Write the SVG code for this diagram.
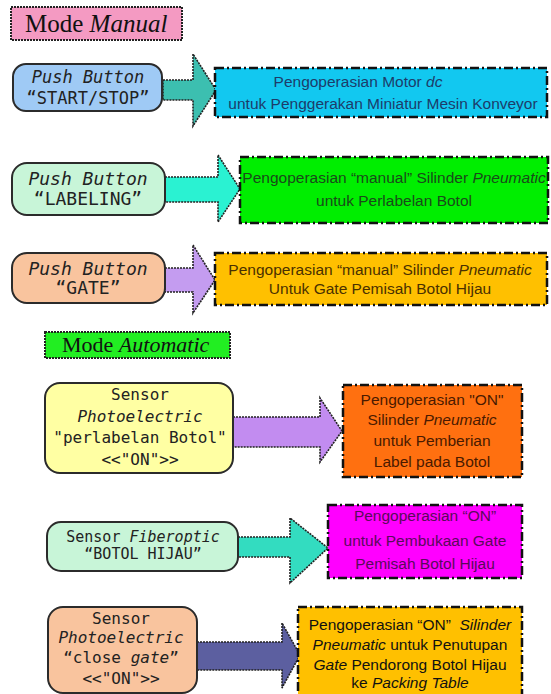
<svg xmlns="http://www.w3.org/2000/svg" width="551" height="694" viewBox="0 0 551 694">
<style>
.node{stroke:#2b2b2b;stroke-width:2}
.mono{font-family:"DejaVu Sans Mono",monospace;text-anchor:middle;fill:#222}
.out{stroke:#111;stroke-width:2.5;stroke-dasharray:9 3 2 3}
.sans{font-family:"Liberation Sans",Arial,sans-serif;text-anchor:middle;font-size:15.5px}
.arr{stroke:#222;stroke-width:1.6;stroke-dasharray:2 1}
.mode{stroke:#222;stroke-width:2;stroke-dasharray:2 1}
.serif{font-family:"Liberation Serif","Times New Roman",serif;fill:#111}
</style>
<rect width="551" height="694" fill="#fff"/>
<g id="mode-manual">
<rect class="mode" x="11" y="7" width="171" height="33" fill="#f49ac2"/>
<text class="serif" x="25" y="32" font-size="25">Mode <tspan font-style="italic">Manual</tspan></text>
</g>
<g id="mode-automatic">
<rect class="mode" x="45" y="332" width="185" height="26" fill="#22ee22"/>
<text class="serif" x="62" y="352" font-size="22">Mode <tspan font-style="italic">Automatic</tspan></text>
</g>
<g id="connectors">
<polygon class="arr" fill="#3cbfb0" points="163,80 193,80 193,54 216,90 193,126 193,100 163,100"/>
<polygon class="arr" fill="#2af2d2" points="165,177 218,177 218,155 240,189 218,222 218,202 165,202"/>
<polygon class="arr" fill="#c49cf0" points="165,268 193,268 193,245 215,280 193,313 193,292 165,292"/>
<polygon class="arr" fill="#c28cf0" points="233,417 320,417 320,398 342,431 320,462 320,447 233,447"/>
<polygon class="arr" fill="#33dcc0" points="238,537 290,537 290,518 328,548 290,583 290,557 238,557"/>
<polygon class="arr" fill="#5c5fa0" points="197,642 282,642 282,623 300,655 282,688 282,670 197,670"/>
</g>
<g id="pb-startstop">
<rect class="node" x="13" y="64" width="149" height="47" rx="13" fill="#9fcaf5"/>
<text class="mono" x="88" y="83" font-size="17" font-style="italic">Push Button</text>
<text class="mono" x="88" y="104" font-size="17">“START/STOP”</text>
</g>
<g id="out-motor">
<rect class="out" x="215" y="68" width="332" height="49" fill="#12c8f0"/>
<text class="sans" x="358" y="87" fill="#1d3c6a">Pengoperasian Motor <tspan font-style="italic">dc</tspan></text>
<text class="sans" x="383" y="109" fill="#1d3c6a">untuk Penggerakan Miniatur Mesin Konveyor</text>
</g>
<g id="pb-labeling">
<rect class="node" x="12" y="163" width="153" height="52" rx="15" fill="#c8f5d8"/>
<text class="mono" x="88" y="185" font-size="18" font-style="italic">Push Button</text>
<text class="mono" x="88" y="205" font-size="18">“LABELING”</text>
</g>
<g id="out-labeling">
<rect class="out" x="240" y="157" width="308" height="66" fill="#00ee00"/>
<text class="sans" x="394" y="183" fill="#1a4a1a" font-size="15">Pengoperasian “manual” Silinder <tspan font-style="italic">Pneumatic</tspan></text>
<text class="sans" x="394" y="206" fill="#1a4a1a">untuk Perlabelan Botol</text>
</g>
<g id="pb-gate">
<rect class="node" x="12" y="253" width="153" height="50" rx="15" fill="#f9c49e"/>
<text class="mono" x="88" y="275" font-size="18" font-style="italic">Push Button</text>
<text class="mono" x="88" y="294" font-size="18">“GATE”</text>
</g>
<g id="out-gate">
<rect class="out" x="215" y="253" width="332" height="52" fill="#ffc000"/>
<text class="sans" x="380" y="275" fill="#4a3000">Pengoperasian “manual” Silinder <tspan font-style="italic">Pneumatic</tspan></text>
<text class="sans" x="380" y="294" fill="#4a3000">Untuk Gate Pemisah Botol Hijau</text>
</g>
<g id="sensor-labeling">
<rect class="node" x="45" y="383" width="188" height="90" rx="15" fill="#ffffa3"/>
<text class="mono" x="140" y="400" font-size="16">Sensor</text>
<text class="mono" x="140" y="422" font-size="16" font-style="italic">Photoelectric</text>
<text class="mono" x="140" y="443" font-size="16">"perlabelan Botol"</text>
<text class="mono" x="140" y="465" font-size="16">&lt;&lt;"ON"&gt;&gt;</text>
</g>
<g id="out-label-on">
<rect class="out" x="343" y="385" width="179" height="92" fill="#ff7010"/>
<text class="sans" x="432" y="405" fill="#4a1a00">Pengoperasian "ON"</text>
<text class="sans" x="432" y="425" fill="#4a1a00">Silinder <tspan font-style="italic">Pneumatic</tspan></text>
<text class="sans" x="432" y="446" fill="#4a1a00">untuk Pemberian</text>
<text class="sans" x="432" y="467" fill="#4a1a00">Label pada Botol</text>
</g>
<g id="sensor-fiberoptic">
<rect class="node" x="47" y="522" width="191" height="49" rx="14" fill="#c8f5d8"/>
<text class="mono" x="143" y="542" font-size="15">Sensor <tspan font-style="italic">Fiberoptic</tspan></text>
<text class="mono" x="143" y="559" font-size="15">“BOTOL HIJAU”</text>
</g>
<g id="out-open-gate">
<rect class="out" x="328" y="505" width="194" height="73" fill="#ff00ff"/>
<text class="sans" x="425" y="521" fill="#5a0a5a">Pengoperasian “ON”</text>
<text class="sans" x="425" y="546" fill="#5a0a5a">untuk Pembukaan Gate</text>
<text class="sans" x="425" y="569" fill="#5a0a5a">Pemisah Botol Hijau</text>
</g>
<g id="sensor-close-gate">
<rect class="node" x="48" y="607" width="149" height="86" rx="15" fill="#f9c49e"/>
<text class="mono" x="121" y="624" font-size="16">Sensor</text>
<text class="mono" x="121" y="643" font-size="16" font-style="italic">Photoelectric</text>
<text class="mono" x="121" y="663" font-size="16">“close <tspan font-style="italic">gate</tspan>”</text>
<text class="mono" x="121" y="684" font-size="16">&lt;&lt;"ON"&gt;&gt;</text>
</g>
<g id="out-close-gate">
<rect class="out" x="298" y="607" width="224" height="90" fill="#ffc000"/>
<text class="sans" x="410" y="630" fill="#111">Pengoperasian “ON”&#160; <tspan font-style="italic">Silinder</tspan></text>
<text class="sans" x="410" y="650" fill="#111"><tspan font-style="italic">Pneumatic</tspan> untuk Penutupan</text>
<text class="sans" x="410" y="670" fill="#111"><tspan font-style="italic">Gate</tspan> Pendorong Botol Hijau</text>
<text class="sans" x="410" y="688" fill="#111">ke <tspan font-style="italic">Packing Table</tspan></text>
</g>
</svg>
